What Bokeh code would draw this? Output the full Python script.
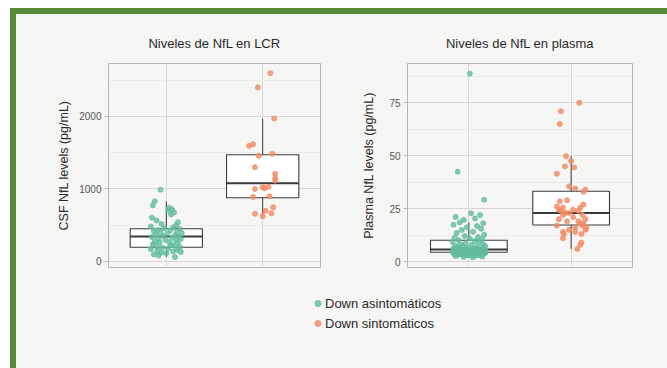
from bokeh.plotting import figure
from bokeh.models import Range1d, FixedTicker, ColumnDataSource, Legend, LegendItem
from bokeh.layouts import column, row
from bokeh.transform import dodge
from bokeh.embed import file_html
from bokeh.resources import INLINE

# ---------------- data ----------------
groups = ["Down asintomáticos", "Down sintomáticos"]
colors = ["#63bd9c", "#f48a64"]

csf_asym = [990, 830, 775, 742, 718, 703, 676, 648, 604, 566, 541, 517, 498, 483,
            468, 457, 449, 436, 428, 421, 409, 402, 393, 384, 372, 361, 352, 345,
            338, 327, 318, 309, 298, 291, 279, 268, 262, 251, 238, 229, 221, 208,
            199, 192, 183, 171, 158, 152, 139, 131, 122, 113, 98, 82, 61]
csf_asym_jitter = [-0.06, -0.12, -0.14, 0.03, 0.06, 0.02, 0.08, 0.05, -0.15, -0.10, 0.12, -0.05, 0.10, -0.16,
                   0.07, -0.02, 0.14, -0.09, 0.04, -0.13, 0.11, -0.06, 0.16, 0.01, -0.11, 0.09, -0.03, 0.13,
                   -0.15, 0.06, -0.08, 0.15, -0.01, 0.10, -0.12, 0.03, -0.07, 0.12, -0.14, 0.05, 0.08, -0.10,
                   0.14, -0.04, 0.02, -0.16, 0.11, -0.09, 0.07, 0.15, -0.05, 0.00, -0.13, -0.08, 0.09]

csf_sym = [2597, 2400, 1972, 1596, 1618, 1458, 1486, 1301, 1210, 1150, 1117,
           1000, 1025, 1010, 1030, 890, 900, 658, 625, 749, 666, 699]
csf_sym_jitter = [0.08, -0.05, 0.12, -0.14, -0.10, -0.04, 0.10, -0.08, 0.13, 0.13, 0.13,
                  -0.08, 0.00, 0.02, 0.06, -0.10, 0.07, -0.08, 0.00, 0.11, 0.09, 0.03]

csf_lower = [61, 625]
csf_q1 = [197, 879]
csf_median = [345, 1080]
csf_q3 = [451, 1472]
csf_upper = [830, 1972]

plasma_asym = [88.8, 42.5, 29.2, 22.8, 22.0, 21.1, 20.4, 19.7, 18.5, 18.1, 17.4, 16.8,
               16.2, 15.5, 14.9, 14.1, 13.5, 12.7, 12.1, 11.6, 11.2, 10.8, 10.5,
               10.1, 9.7, 9.3, 9.1, 8.7, 8.4, 8.2, 7.9, 7.5, 7.3, 7.1, 6.9,
               6.7, 6.6, 6.4, 6.3, 6.1, 6.0, 5.9, 5.8, 5.8, 5.7, 5.7,
               5.6, 5.6, 5.5, 5.4, 5.4, 5.3, 5.2, 5.2, 5.1, 5.0, 5.0, 4.9,
               4.9, 4.8, 4.8, 4.7, 4.7, 4.6, 4.6, 4.5, 4.5, 4.4, 4.4,
               4.3, 4.3, 4.2, 4.1, 4.1, 4.0, 3.9, 3.8, 3.8, 3.7, 3.6, 3.5,
               3.4, 3.3, 3.2, 3.1, 3.0, 2.9, 2.7, 2.6, 2.4, 2.2, 2.0]
plasma_asym_jitter = [0.01, -0.11, 0.15, 0.02, 0.11, -0.13, 0.06, -0.05, -0.09, 0.14, -0.15, 0.08,
                      -0.02, 0.12, -0.07, 0.04, -0.12, 0.15, -0.04, 0.09, -0.14, 0.01, 0.13,
                      -0.10, 0.06, -0.16, 0.10, -0.03, 0.14, -0.08, 0.03, -0.13, 0.16, -0.06, 0.08,
                      -0.11, 0.00, 0.12, -0.15, 0.05, -0.02, 0.15, -0.09, 0.07, -0.12, 0.11,
                      -0.05, 0.13, -0.14, 0.02, 0.09, -0.10, 0.16, -0.01, 0.06, -0.13, 0.12, -0.07,
                      0.04, -0.16, 0.10, -0.04, 0.14, -0.11, 0.01, 0.08, -0.08, 0.15, -0.02,
                      -0.12, 0.05, 0.11, -0.06, 0.16, -0.15, 0.03, -0.09, 0.12, -0.03, 0.08, -0.14,
                      0.14, -0.07, 0.01, -0.11, 0.10, -0.01, 0.06, -0.13, 0.13, -0.05, 0.04]

plasma_sym = [75, 71, 65, 49.8, 47.5, 45, 44.5, 41.5, 35.5, 34.5, 34, 33, 29, 28.5, 27, 26,
              25.5, 25.5, 24.5, 24.5, 24, 24, 23, 23, 22, 22, 21, 20, 20, 19, 19, 18, 18,
              17, 17, 16, 16, 15, 15, 14, 14, 13, 13, 11, 9, 8, 6]
plasma_sym_jitter = [0.08, -0.10, -0.11, -0.05, 0.00, -0.06, 0.03, -0.14, -0.02, 0.04, 0.14, 0.12,
                     -0.04, -0.11, 0.12, -0.14, -0.08, 0.09, -0.12, 0.02, -0.10, 0.07, -0.06, -0.02,
                     -0.08, 0.11, 0.02, -0.12, 0.14, -0.04, 0.07, 0.09, 0.12, 0.11, -0.14, 0.04,
                     0.15, -0.02, 0.14, -0.08, 0.04, -0.07, 0.10, -0.08, 0.10, 0.09, 0.06]

plasma_lower = [2.0, 6.0]
plasma_q1 = [4.4, 17.3]
plasma_median = [5.7, 23.0]
plasma_q3 = [10.1, 33.2]
plasma_upper = [18.5, 49.8]

csf_ticks = [0, 1000, 2000]
csf_minor = [500, 1500, 2500]
plasma_ticks = [0, 25, 50, 75]
plasma_minor = [12.5, 37.5, 62.5, 87.5]

# ---------------- style ----------------
FONT = "Liberation Sans"
BG = "#f6f6f4"
GREEN = "#558a36"
BOX_LINE = "#3a3a3a"


def panel(title, ylabel, asym, asym_dx, sym, sym_dx, lower, q1, med, q3, upper,
          ticks, minor, yr, width, mbl, mbr, label_standoff, title_offset):
    p = figure(width=width, height=271, x_range=Range1d(0.4, 2.6), y_range=Range1d(*yr),
               output_backend="svg", toolbar_location=None, x_axis_location=None,
               min_border_left=mbl, min_border_right=mbr, min_border_top=49, min_border_bottom=18,
               background_fill_color=BG, border_fill_color=BG, outline_line_color="#b5b5b5",
               title=title)
    p.title.align = "center"
    p.title.offset = title_offset
    p.title.text_font = FONT
    p.title.text_font_size = "13px"
    p.title.text_font_style = "normal"
    p.title.text_color = "#2a2a2a"
    p.title.standoff = 25

    p.xgrid.ticker = FixedTicker(ticks=[1, 2])
    p.xgrid.grid_line_color = "#d6d6d6"
    ax = p.yaxis[0]
    ax.ticker = FixedTicker(ticks=ticks, minor_ticks=minor)
    p.ygrid.ticker = ax.ticker
    p.ygrid.grid_line_color = "#d6d6d6"
    p.ygrid.minor_grid_line_color = "#ebebeb"
    ax.axis_line_color = None
    ax.major_tick_out = 4
    ax.major_tick_in = 0
    ax.major_tick_line_color = "#b5b5b5"
    ax.minor_tick_out = 0
    ax.minor_tick_in = 0
    ax.major_label_text_font = FONT
    ax.major_label_text_font_size = "10px"
    ax.major_label_text_color = "#555555"
    ax.major_label_standoff = 3
    ax.axis_label = ylabel
    ax.axis_label_text_font = FONT
    ax.axis_label_text_font_size = "12.5px"
    ax.axis_label_text_font_style = "normal"
    ax.axis_label_text_color = "#2a2a2a"
    ax.axis_label_standoff = label_standoff

    box = ColumnDataSource(dict(x=[1, 2], lower=lower, q1=q1, med=med, q3=q3, upper=upper))
    p.segment(x0="x", y0="q3", x1="x", y1="upper", source=box, line_color=BOX_LINE, line_width=1)
    p.segment(x0="x", y0="lower", x1="x", y1="q1", source=box, line_color=BOX_LINE, line_width=1)
    p.vbar(x="x", width=0.75, bottom="q1", top="q3", source=box,
           fill_color="white", line_color=BOX_LINE, line_width=1.1)
    p.segment(x0=dodge("x", -0.375, range=p.x_range), x1=dodge("x", 0.375, range=p.x_range),
              y0="med", y1="med", source=box, line_color=BOX_LINE, line_width=2)

    for idx, (vals, dx, col) in enumerate([(asym, asym_dx, colors[0]), (sym, sym_dx, colors[1])]):
        src = ColumnDataSource(dict(x=[idx + 1 + d for d in dx], y=vals))
        p.scatter(x="x", y="y", source=src, size=5, fill_color=col, line_color=col,
                  fill_alpha=0.8, line_alpha=0.8)
    return p


p1 = panel("Niveles de NfL en LCR", "CSF NfL levels (pg/mL)",
           csf_asym, csf_asym_jitter, csf_sym, csf_sym_jitter,
           csf_lower, csf_q1, csf_median, csf_q3, csf_upper,
           csf_ticks, csf_minor, (-83, 2731), 324, 92, 20, 5, 0)
p2 = panel("Niveles de NfL en plasma", "Plasma NfL levels (pg/mL)",
           plasma_asym, plasma_asym_jitter, plasma_sym, plasma_sym_jitter,
           plasma_lower, plasma_q1, plasma_median, plasma_q3, plasma_upper,
           plasma_ticks, plasma_minor, (-2.8, 93.6), 327, 67, 35, 10, -8)

# legend panel (the key renderers sit outside the visible range; only their legend entries show)
p3 = figure(width=651, height=83, x_range=Range1d(0, 1), y_range=Range1d(0, 1),
            output_backend="svg", toolbar_location=None, x_axis_location=None, y_axis_location=None,
            min_border=0, background_fill_color=BG, border_fill_color=BG, outline_line_color=None)
p3.grid.visible = False
r_a = p3.scatter(x=[-5], y=[-5], size=7, fill_color=colors[0], line_color=colors[0], fill_alpha=0.8, line_alpha=0.8)
r_s = p3.scatter(x=[-5], y=[-5], size=7, fill_color=colors[1], line_color=colors[1], fill_alpha=0.8, line_alpha=0.8)
leg = Legend(items=[LegendItem(label=groups[0], renderers=[r_a]),
                    LegendItem(label=groups[1], renderers=[r_s])],
             location=(294, 37), padding=0, margin=0, spacing=4,
             glyph_width=15, glyph_height=16, label_height=16, label_standoff=0,
             label_text_font=FONT, label_text_font_size="13px", label_text_color="#2a2a2a",
             background_fill_alpha=0, border_line_color=None)
p3.add_layout(leg)

root = column(row(p1, p2), p3,
              styles={"border-top": f"6px solid {GREEN}", "border-left": f"6px solid {GREEN}",
                      "background-color": BG},
              margin=(8, 0, 0, 10))

open("out.html", "w").write(file_html(root, INLINE))
